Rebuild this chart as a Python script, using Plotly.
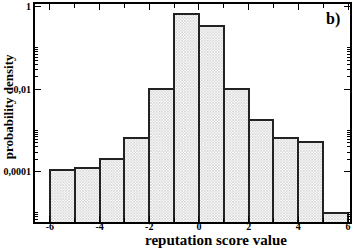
import plotly.graph_objects as go

# Data
bin_centers = [-5.5, -4.5, -3.5, -2.5, -1.5, -0.5, 0.5, 1.5, 2.5, 3.5, 4.5, 5.5]
density = [1.11e-4, 1.24e-4, 2.07e-4, 6.45e-4, 0.0102, 0.655, 0.333, 0.0099, 0.00182, 6.6e-4, 5.17e-4, 9.8e-6]
x_tick_vals = [-6, -4, -2, 0, 2, 4, 6]
x_tick_text = ["-6", "-4", "-2", "0", "2", "4", "6"]
y_tick_vals = [1, 0.01, 0.0001]
y_tick_text = ["1", "0,01", "0,0001"]
y_minor_vals = [k * 10.0 ** e for e in (-2, -4, -6) for k in range(2, 11)]

FONT = "Liberation Serif"

fig = go.Figure()
fig.add_trace(go.Bar(
    x=bin_centers, y=density, width=1,
    marker=dict(color="white",
                line=dict(color="#222", width=2),
                pattern=dict(shape="x", size=2, solidity=0.5, fgcolor="#888", bgcolor="white")),
))

fig.update_layout(
    width=354, height=249,
    margin=dict(l=35, r=2, t=2, b=27),
    paper_bgcolor="white", plot_bgcolor="white",
    showlegend=False,
    bargap=0,
    font=dict(family=FONT, color="black", size=10, weight="bold"),
    xaxis=dict(range=[-6.6, 6.08], tickvals=x_tick_vals, ticktext=x_tick_text,
               ticks="inside", ticklen=6, tickwidth=1, tickcolor="black",
               ticklabelstandoff=-6,
               minor=dict(ticks="inside", dtick=1, tick0=0, ticklen=4, tickwidth=1, tickcolor="black"),
               showline=True, linecolor="black", linewidth=2, mirror="ticks",
               showgrid=False, zeroline=False,
               tickfont=dict(family=FONT, size=10, weight="bold")),
    yaxis=dict(type="log", range=[-5.22, 0.065], tickvals=y_tick_vals, ticktext=y_tick_text,
               ticks="inside", ticklen=6, tickwidth=1, tickcolor="black",
               minor=dict(ticks="inside", tickvals=y_minor_vals, ticklen=3, tickwidth=1, tickcolor="black"),
               showline=True, linecolor="black", linewidth=2, mirror="ticks",
               showgrid=False, zeroline=False,
               tickfont=dict(family=FONT, size=10, weight="bold")),
    annotations=[
        dict(text="reputation score value", xref="paper", yref="paper", x=0.574, y=-0.082,
             xanchor="center", yanchor="middle", showarrow=False,
             font=dict(family=FONT, size=15, weight="bold")),
        dict(text="probability density", xref="paper", yref="paper", x=-0.083, y=0.53,
             xanchor="center", yanchor="middle", showarrow=False, textangle=-90,
             font=dict(family=FONT, size=13, weight="bold")),
        dict(text="b)", xref="paper", yref="paper", x=0.946, y=0.932,
             xanchor="center", yanchor="middle", showarrow=False,
             font=dict(family=FONT, size=16, weight="bold")),
    ],
)

fig.write_html("out.html", config={"displayModeBar": False},
               post_script="document.body.style.margin='0';document.body.style.overflow='hidden';")
